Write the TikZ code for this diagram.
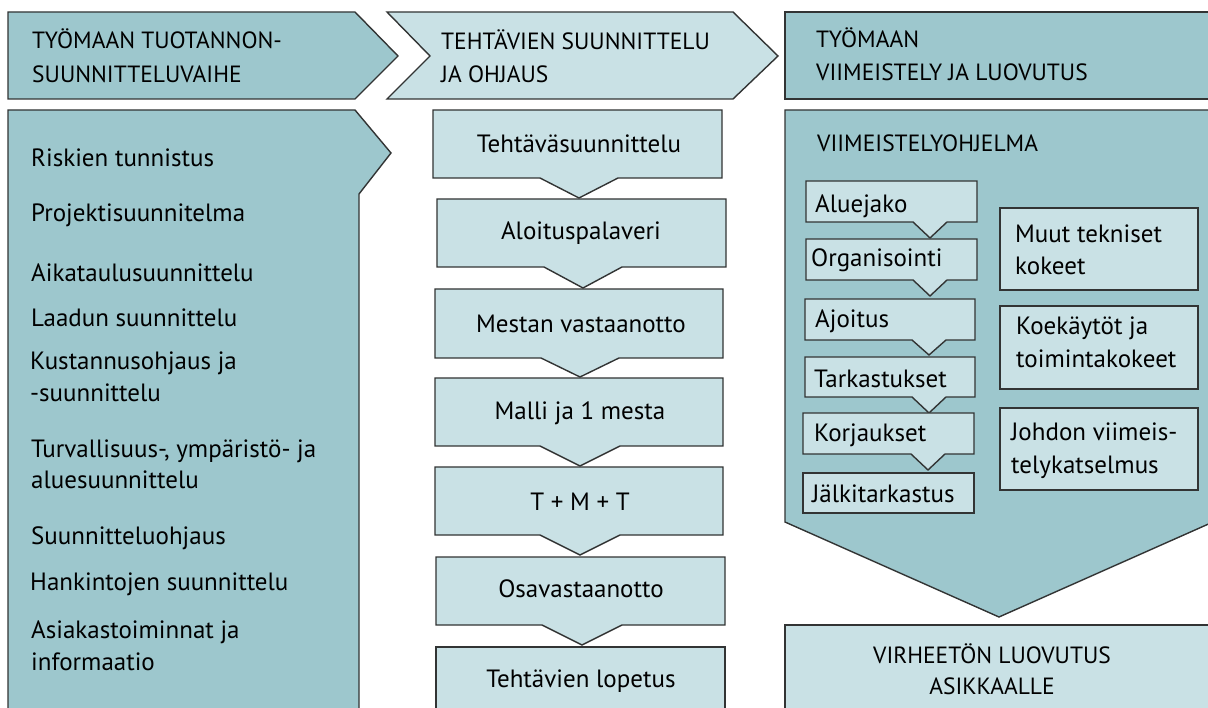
\documentclass[tikz,border=0pt]{standalone}
\usepackage{fontspec}
\setmainfont{PT Sans}
\definecolor{tealdark}{RGB}{157,199,205}
\definecolor{teallight}{RGB}{201,225,229}
\definecolor{edge}{RGB}{50,52,52}
\newcommand\notchbox[8]{\path[#1] (#2,#4) -- (#3,#4) -- (#3,#5) -- ({#6+#7},#5) -- (#6,{#5+#8}) -- ({#6-#7},#5) -- (#2,#5) -- cycle;}
\tikzset{
  dark/.style={fill=tealdark, draw=edge, line width=1.4pt},
  light/.style={fill=teallight, draw=edge, line width=1.4pt},
  txt/.style={inner sep=0pt, anchor=base west, font=\fontsize{25}{32}\selectfont},
  ctxt/.style={txt, anchor=base},
  hdr/.style={inner sep=0pt, anchor=base west, font=\fontsize{23.5}{33}\selectfont},
  chdr/.style={hdr, anchor=base},
}
\begin{document}
\begin{tikzpicture}[x=1pt,y=-1pt]
\useasboundingbox (0,0) rectangle (1208,708);
\clip (0,0) rectangle (1208,708);
\fill[white] (0,0) rectangle (1208,708);
% header row
\path[dark] (8,12) -- (355,12) -- (398,56) -- (355,99) -- (8,99) -- cycle;
\path[light] (387,12) -- (733,12) -- (778,56) -- (733,99) -- (387,99) -- (430,56) -- cycle;
\path[dark] (785,12) -- (1230,12) -- (1230,99) -- (785,99) -- cycle;
\node[hdr] (h1a) at (32,49) {TYÖMAAN TUOTANNON-};
\node[hdr] (h1b) at (32,83) {SUUNNITTELUVAIHE};
\node[hdr] (h2a) at (441,50) {TEHTÄVIEN SUUNNITTELU};
\node[hdr] (h2b) at (441,83) {JA OHJAUS};
\node[hdr] (h3a) at (816,48) {TYÖMAAN};
\node[hdr] (h3b) at (816,81) {VIIMEISTELY JA LUOVUTUS};
% left panel
\path[dark] (8,110) -- (355,110) -- (391,153) -- (359,194) -- (359,730) -- (8,730) -- cycle;
\node[txt] (l1) at (31,167) {Riskien tunnistus};
\node[txt] (l2) at (31,222) {Projektisuunnitelma};
\node[txt] (l3) at (31,282) {Aikataulusuunnittelu};
\node[txt] (l4) at (31,327) {Laadun suunnittelu};
\node[txt] (l5a) at (30,370) {Kustannusohjaus ja};
\node[txt] (l5b) at (30,402) {-suunnittelu};
\node[txt] (l6a) at (31,457) {Turvallisuus-, ympäristö- ja};
\node[txt] (l6b) at (31,489) {aluesuunnittelu};
\node[txt] (l7) at (31,544) {Suunnitteluohjaus};
\node[txt] (l8) at (30,590) {Hankintojen suunnittelu};
\node[txt] (l9a) at (31,638) {Asiakastoiminnat ja};
\node[txt] (l9b) at (31,670) {informaatio};
% middle column
\notchbox{light}{433}{722}{110}{178}{579}{39}{20}
\notchbox{light}{437}{726}{199}{267}{583}{39}{21}
\notchbox{light}{435}{723}{289}{358}{580}{39}{19}
\notchbox{light}{435}{723}{378}{446}{580}{40}{20}
\notchbox{light}{435}{723}{467}{535}{580}{40}{20}
\notchbox{light}{436}{725}{557}{625}{582}{40}{20}
\path[light] (436,647) rectangle (725,730);
\node[ctxt] (m1) at (579,153) {Tehtäväsuunnittelu};
\node[ctxt] (m2) at (581,240) {Aloituspalaveri};
\node[ctxt] (m3) at (581,333) {Mestan vastaanotto};
\node[ctxt] (m4) at (580,420) {Malli ja 1 mesta};
\node[ctxt] (m5) at (580,510) {T + M + T};
\node[ctxt] (m6) at (581,597) {Osavastaanotto};
\node[ctxt] (m7) at (581,687) {Tehtävien lopetus};
% right panel
\path[dark] (785,110) -- (1213,110) -- (1213,522) -- (999,617) -- (785,522) -- cycle;
\node[hdr] (vo) at (817,152) {VIIMEISTELYOHJELMA};
\notchbox{light}{806}{977}{181}{222}{930}{17}{16}
\notchbox{light}{806}{977}{239}{280}{930}{17}{16}
\notchbox{light}{805}{975}{299}{340}{929}{17}{15}
\notchbox{light}{805}{975}{357}{397}{929}{17}{16}
\notchbox{light}{803}{974}{413}{454}{928}{17}{16}
\path[light] (803,473) rectangle (974,513);
\node[txt] (s1) at (815,213) {Aluejako};
\node[txt] (s2) at (811,267) {Organisointi};
\node[txt] (s3) at (815,328) {Ajoitus};
\node[txt] (s4) at (814,388) {Tarkastukset};
\node[txt] (s5) at (814,442) {Korjaukset};
\node[txt] (s6) at (812,503) {Jälkitarkastus};
\path[light] (1000,208) rectangle (1198,290);
\path[light] (1000,306) rectangle (1198,389);
\path[light] (1000,408) rectangle (1198,490);
\node[txt] (r1a) at (1015,243) {Muut tekniset};
\node[txt] (r1b) at (1015,275) {kokeet};
\node[txt] (r2a) at (1016,335) {Koekäytöt ja};
\node[txt] (r2b) at (1016,368) {toimintakokeet};
\node[txt] (r3a) at (1011,441) {Johdon viimeis-};
\node[txt] (r3b) at (1011,474) {telykatselmus};
% bottom right
\path[light] (785,625) rectangle (1230,730);
\node[chdr] (b1) at (992,663) {VIRHEETÖN LUOVUTUS};
\node[chdr] (b2) at (992,694) {ASIKKAALLE};
\end{tikzpicture}
\end{document}
